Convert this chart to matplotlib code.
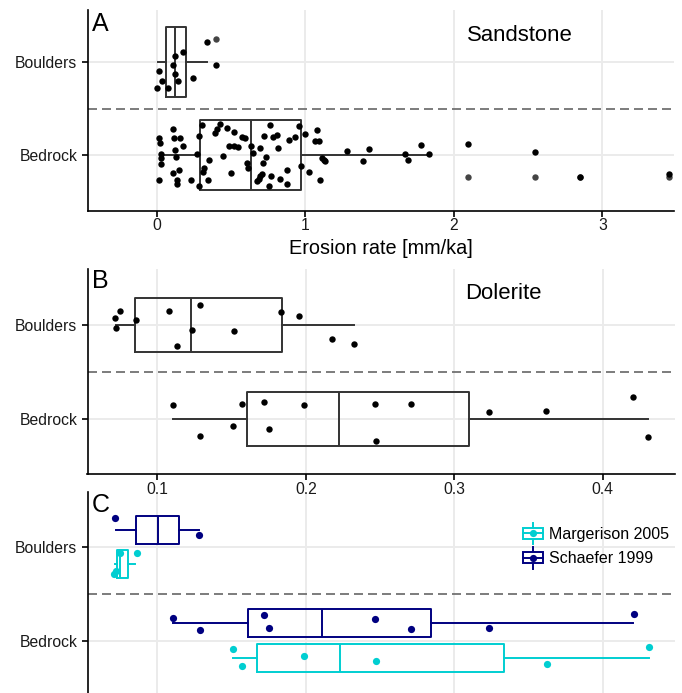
import matplotlib
matplotlib.use("Agg")
import matplotlib.pyplot as plt
from matplotlib.legend_handler import HandlerBase
from matplotlib.patches import Rectangle
from matplotlib.lines import Line2D

plt.rcParams['font.family'] = ['Liberation Sans', 'DejaVu Sans']

# ---------------- data ----------------
categories = ["Bedrock", "Boulders"]          # y positions 1, 2
x_ticks_A = [0, 1, 2, 3]
x_ticks_BC = [0.1, 0.2, 0.3, 0.4]
x_ticklabels_BC = ["0.1", "0.2", "0.3", "0.4"]

# Panel A - Sandstone
sand_boulder_rate = [0.339, 0.123, 0.173, 0.110, 0.395, 0.011, 0.121, 0.243, 0.036, 0.141, 0.000, 0.076]
sand_boulder_jit = [0.214, 0.064, 0.107, -0.036, -0.036, -0.093, -0.129, -0.168, -0.204, -0.204, -0.275, -0.282]
sand_boulder_outlier = [0.395]
sand_boulder_outlier_jit = [0.243]
sand_boulder_box = dict(whislo=0.004, q1=0.063, med=0.121, q3=0.196, whishi=0.339)

sand_bedrock_rate = [0.110, 0.301, 0.425, 0.762, 0.960, 1.076, 0.404, 0.472, 0.389, 0.519, 1.000,
                     0.011, 0.115, 0.157, 0.281, 0.575, 0.593, 0.721, 0.782, 0.809, 0.890, 0.930,
                     1.067, 1.090, 0.018, 0.175, 0.485, 0.519, 0.548, 0.631, 0.694, 0.813, 1.427,
                     0.121, 1.281, 0.027, 0.270, 0.447, 0.645, 0.733, 1.110, 0.025, 0.130, 1.130,
                     1.387, 0.029, 0.351, 0.604, 0.717, 0.973, 1.124, 0.317, 0.613, 0.151, 0.110,
                     0.310, 0.499, 0.876, 1.027, 0.706, 0.697, 0.771, 0.011, 0.135, 0.229, 0.344,
                     0.685, 0.827, 1.101, 0.674, 0.133, 0.285, 0.755, 0.874,
                     1.672, 1.694, 1.782, 1.834, 2.094, 2.546, 2.852, 3.449]
sand_bedrock_jit = [0.286, 0.321, 0.336, 0.329, 0.314, 0.275, 0.279, 0.293, 0.236, 0.250, 0.225,
                    0.182, 0.189, 0.182, 0.211, 0.196, 0.189, 0.204, 0.196, 0.214, 0.168, 0.196,
                    0.154, 0.154, 0.132, 0.096, 0.096, 0.104, 0.089, 0.096, 0.082, 0.082, 0.068,
                    0.061, 0.046, 0.018, 0.011, -0.004, 0.025, -0.018, -0.029, -0.029, -0.021, -0.057,
                    -0.064, -0.096, -0.054, -0.086, -0.079, -0.114, -0.050, -0.132, -0.139, -0.161, -0.189,
                    -0.175, -0.186, -0.161, -0.182, -0.196, -0.225, -0.218, -0.261, -0.268, -0.268, -0.261,
                    -0.254, -0.257, -0.261, -0.275, -0.307, -0.325, -0.325, -0.304,
                    0.018, -0.050, 0.111, 0.018, 0.125, 0.039, -0.232, -0.200]
sand_bedrock_outlier = [2.094, 2.546, 2.852, 3.449]
sand_bedrock_outlier_jit = [-0.232, -0.232, -0.232, -0.232]
sand_bedrock_box = dict(whislo=0.022, q1=0.290, med=0.636, q3=0.971, whishi=1.834)

# Panel B - Dolerite
dol_boulder_rate = [0.0749, 0.0717, 0.0720, 0.0859, 0.1081, 0.1285, 0.1234, 0.1133, 0.1519, 0.1835, 0.1956, 0.2179, 0.2325]
dol_boulder_jit = [0.157, 0.079, -0.029, 0.054, 0.150, 0.214, -0.050, -0.225, -0.061, 0.139, 0.100, -0.146, -0.196]
dol_boulder_box = dict(whislo=0.0720, q1=0.0852, med=0.1229, q3=0.1838, whishi=0.2325)
dol_bedrock_rate = [0.1103, 0.1285, 0.1510, 0.1570, 0.1721, 0.1752, 0.1986, 0.2468, 0.2473, 0.2708, 0.3231, 0.3617, 0.4201, 0.4302]
dol_bedrock_jit = [0.143, -0.182, -0.079, 0.157, 0.182, -0.107, 0.146, 0.157, -0.236, 0.154, 0.071, 0.079, 0.236, -0.200]
dol_bedrock_box = dict(whislo=0.1106, q1=0.1606, med=0.2226, q3=0.3101, whishi=0.4302)

# Panel C - Dolerite by study
studies = ["Margerison 2005", "Schaefer 1999"]
study_colors = ["#00CED1", "#000080"]
study_dodge = [-0.185, 0.185]
schaefer_boulder_rate = [0.0715, 0.1283]
schaefer_boulder_jit = [0.307, 0.128]
schaefer_boulder_box = dict(whislo=0.0720, q1=0.0857, med=0.1002, q3=0.1147, whishi=0.1283)
margerison_boulder_rate = [0.0749, 0.0861, 0.0710, 0.0722]
margerison_boulder_jit = [-0.067, -0.067, -0.289, -0.260]
margerison_boulder_box = dict(whislo=0.0712, q1=0.0731, med=0.0749, q3=0.0805, whishi=0.0850)
schaefer_bedrock_rate = [0.1103, 0.1285, 0.1721, 0.1754, 0.2468, 0.2711, 0.3236, 0.4210]
schaefer_bedrock_jit = [0.238, 0.110, 0.278, 0.135, 0.235, 0.128, 0.135, 0.281]
schaefer_bedrock_box = dict(whislo=0.1104, q1=0.1609, med=0.2111, q3=0.2843, whishi=0.4205)
margerison_bedrock_rate = [0.1508, 0.1573, 0.1988, 0.2473, 0.3622, 0.4309]
margerison_bedrock_jit = [-0.089, -0.274, -0.160, -0.214, -0.246, -0.064]
margerison_bedrock_box = dict(whislo=0.1512, q1=0.1671, med=0.2230, q3=0.3337, whishi=0.4309)

# ---------------- style ----------------
W, H = 682, 693
fig = plt.figure(figsize=(W / 100, H / 100), dpi=100)
FS = 11.3
GRID = "#EBEBEB"
BOXC = "#333333"
BLW = 1.4


def px_axes(left, top, right, bottom):
    return fig.add_axes([left / W, 1 - bottom / H, (right - left) / W, (bottom - top) / H])


def style(ax, xlim, ylim, xticks, xticklabels=None):
    ax.set_xlim(*xlim)
    ax.set_ylim(*ylim)
    ax.set_xticks(xticks)
    if xticklabels is not None:
        ax.set_xticklabels(xticklabels)
    ax.set_yticks([1, 2])
    ax.set_yticklabels(categories)
    for s in ["top", "right"]:
        ax.spines[s].set_visible(False)
    for s in ["left", "bottom"]:
        ax.spines[s].set_linewidth(1.2)
        ax.spines[s].set_color("black")
    ax.tick_params(axis="both", length=4, width=1.2, color="black", labelsize=FS, labelcolor="#1a1a1a")
    ax.tick_params(axis="y", pad=3.2)
    ax.tick_params(axis="x", pad=1.5)
    ax.grid(True, color=GRID, lw=1.4)
    ax.set_axisbelow(True)
    ax.patch.set_visible(False)
    ax.axhline(1.5, color="#666666", lw=1.2, ls=(0, (5.4, 3)), zorder=1.5)


def box(ax, stats, pos, width, color, lw=BLW):
    s = dict(stats)
    s["fliers"] = []
    ax.bxp([s], positions=[pos], widths=[width], orientation="horizontal",
           showcaps=False, showfliers=False,
           boxprops=dict(color=color, lw=lw),
           whiskerprops=dict(color=color, lw=lw),
           medianprops=dict(color=color, lw=lw), manage_ticks=False, zorder=2)


def pts(ax, rates, jit, base, color, ms=4.6, z=3):
    ax.plot(rates, [base + j for j in jit], ls="none", marker="o", ms=ms,
            mfc=color, mec=color, mew=0, zorder=z)


# ---------------- Panel A ----------------
axA = px_axes(87.5, 10, 674, 210.7)
style(axA, (-0.468, 3.483), (0.406, 2.557), x_ticks_A)
box(axA, sand_boulder_box, 2, 0.75, BOXC)
box(axA, sand_bedrock_box, 1, 0.75, BOXC)
pts(axA, sand_boulder_outlier, sand_boulder_outlier_jit, 2, "#444444")
pts(axA, sand_bedrock_outlier, sand_bedrock_outlier_jit, 1, "#444444")
pts(axA, sand_boulder_rate, sand_boulder_jit, 2, "black", z=4)
pts(axA, sand_bedrock_rate, sand_bedrock_jit, 1, "black", z=4)
axA.text(2.086, 2.228, "Sandstone", fontsize=15.9, va="baseline", ha="left", color="black")
fig.text(380.7 / W, 1 - 253.5 / H, "Erosion rate [mm/ka]", fontsize=14.3, ha="center", va="baseline")

# ---------------- Panel C ----------------
axC = px_axes(87.5, 491.7, 674.5, 696.9)
axC.set_zorder(1)
style(axC, (0.0529, 0.4483), (0.4, 2.59), x_ticks_BC, ["", "", "", ""])
cM, cS = study_colors
dM, dS = study_dodge
box(axC, schaefer_boulder_box, 2 + dS, 0.3, cS)
box(axC, margerison_boulder_box, 2 + dM, 0.3, cM)
box(axC, schaefer_bedrock_box, 1 + dS, 0.3, cS)
box(axC, margerison_bedrock_box, 1 + dM, 0.3, cM)
pts(axC, schaefer_boulder_rate, schaefer_boulder_jit, 2, cS, ms=5.2, z=4)
pts(axC, margerison_boulder_rate, margerison_boulder_jit, 2, cM, ms=5.2, z=4)
pts(axC, schaefer_bedrock_rate, schaefer_bedrock_jit, 1, cS, ms=5.2, z=4)
pts(axC, margerison_bedrock_rate, margerison_bedrock_jit, 1, cM, ms=5.2, z=4)

# ---------------- Panel B ----------------
axB = px_axes(87.5, 269, 674.5, 474.3)
axB.set_zorder(2)
style(axB, (0.0529, 0.4483), (0.404, 2.603), x_ticks_BC, x_ticklabels_BC)
box(axB, dol_boulder_box, 2, 0.58, BOXC)
box(axB, dol_bedrock_box, 1, 0.58, BOXC)
pts(axB, dol_boulder_rate, dol_boulder_jit, 2, "black", z=4)
pts(axB, dol_bedrock_rate, dol_bedrock_jit, 1, "black", z=4)
axB.text(0.307, 2.279, "Dolerite", fontsize=15.9, va="baseline", ha="left", color="black")


class BoxKey(HandlerBase):
    def create_artists(self, legend, orig_handle, xdescent, ydescent, width, height, fontsize, trans):
        c = orig_handle.get_color()
        cx = width / 2 - xdescent
        cy = height / 2 - ydescent
        v = Line2D([cx, cx], [cy - height * 0.9, cy + height * 0.9], color=c, lw=BLW, transform=trans)
        r = Rectangle((-xdescent, cy - height * 0.48), width, height * 0.96, fc="white", ec=c, lw=BLW,
                      transform=trans)
        m = Line2D([-xdescent, -xdescent + width], [cy, cy], color=c, lw=BLW, transform=trans)
        p = Line2D([cx], [cy], marker="o", ms=5.2, mfc=c, mec=c, mew=0, ls="none", transform=trans)
        return [v, r, m, p]


handles = [Line2D([], [], color=col, label=lab) for lab, col in zip(studies, study_colors)]
leg = fig.legend(handles=handles, loc="upper left", bbox_to_anchor=(523.3 / W, 1 - 527 / H),
                 frameon=False, fontsize=11.5, handler_map={Line2D: BoxKey()},
                 handlelength=1.21, handleheight=0.78, handletextpad=0.37,
                 labelspacing=0.58, borderpad=0, borderaxespad=0)
leg.set_zorder(5)

# panel letters
for lab, base in [("A", 30.7), ("B", 288.3), ("C", 512.5)]:
    fig.text(91.5 / W, 1 - base / H, lab, fontsize=18, va="baseline", ha="left", zorder=6)

fig.savefig("out.png", dpi=100)
